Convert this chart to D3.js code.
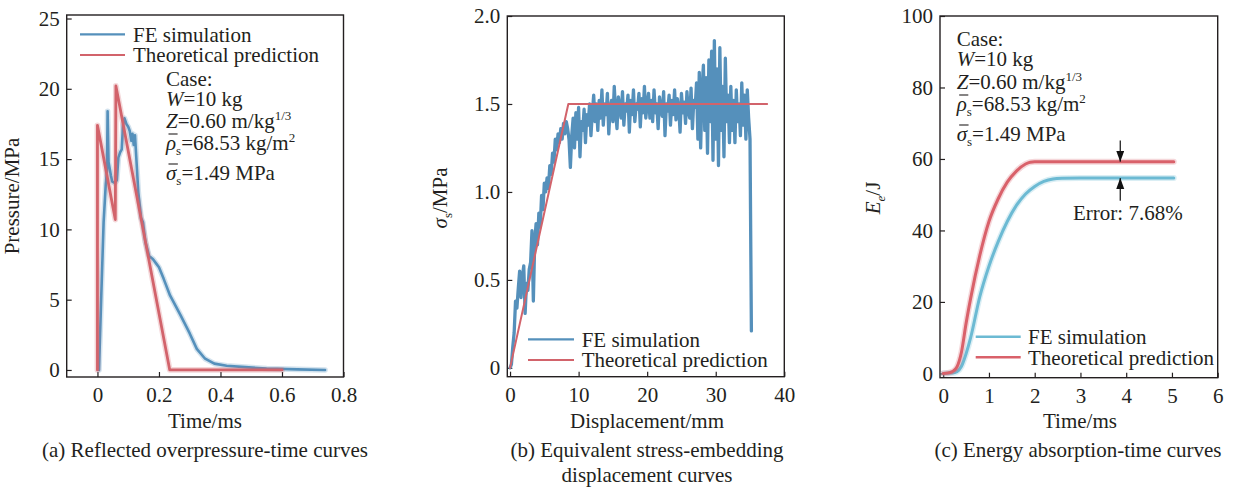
<!DOCTYPE html>
<html>
<head>
<meta charset="utf-8">
<script src="https://cdn.jsdelivr.net/npm/d3@7"></script>
<style>
  body { margin: 0; background: #fff; }
  .tick line { stroke: #231f20; stroke-width: 1.2; }
  .frame { fill: none; stroke: #231f20; stroke-width: 1.4; }
  .curve { fill: none; stroke-linejoin: round; stroke-linecap: round; }
</style>
</head>
<body>
<svg id="chart" width="1233" height="488"></svg>
<script>
//----------------------------------------
// Data
//----------------------------------------
const legendLabels = ['FE simulation', 'Theoretical prediction'];

// (a) reflected overpressure vs time
const pressureTimeFE = [0.005, 0.012, 0.02, 0.027, 0.031, 0.033, 0.036, 0.04, 0.044, 0.048, 0.056, 0.063,
  0.068, 0.074, 0.079, 0.083, 0.088, 0.094, 0.1, 0.105, 0.11, 0.114, 0.118, 0.122, 0.126, 0.133,
  0.142, 0.148, 0.156, 0.168, 0.18, 0.19, 0.2, 0.215, 0.236, 0.27, 0.3, 0.323, 0.35, 0.38, 0.42,
  0.48, 0.55, 0.65, 0.74];
const pressureFE = [0, 5, 10.5, 13.2, 14.2, 18.4, 14.8, 14.3, 13.8, 13.4, 13.3, 13.5,
  15.1, 15.5, 15.7, 17.4, 17.9, 17.5, 17.3, 17.0, 16.3, 16.8, 16.0, 16.7, 15.2, 12.6,
  10.8, 10.5, 9.1, 8.1, 7.9, 7.6, 7.3, 6.5, 5.3, 3.9, 2.6, 1.5, 0.8, 0.45, 0.3,
  0.2, 0.1, 0.04, 0];
const pressureTimeTheory = [0, 0, 0.058, 0.06, 0.235, 0.6];
const pressureTheory = [0, 17.4, 10.7, 20.2, 0, 0];
const pressureTicksX = [0, 0.2, 0.4, 0.6, 0.8];
const pressureTickLabelsX = ['0', '0.2', '0.4', '0.6', '0.8'];
const pressureTicksY = [0, 5, 10, 15, 20, 25];
const pressureTickLabelsY = ['0', '5', '10', '15', '20', '25'];

// (b) equivalent stress vs embedding displacement, FE sampled every 0.2 mm
const stressStepMM = 0.2;
const stressFE = [
  0, 0.02, 0.12, 0.2, 0.38, 0.34,
  0.45, 0.55, 0.4, 0.52, 0.58, 0.31, 0.48, 0.44, 0.56, 0.6, 0.78, 0.38,
  0.72, 0.82, 0.7, 0.88, 0.8, 0.98, 0.9, 1.05,
  1.0, 1.08, 1.02, 1.15, 1.1, 1.22, 1.17, 1.3, 1.24, 1.33,
  1.28, 1.36, 1.3, 1.39, 1.33, 1.4, 1.36, 1.3, 1.14, 1.32,
  1.42, 1.25, 1.45, 1.3, 1.48, 1.2, 1.4, 1.35, 1.47, 1.28, 1.44, 1.38, 1.5, 1.32, 1.45,
  1.55, 1.4, 1.5, 1.35, 1.52, 1.42, 1.58, 1.38, 1.5, 1.44,
  1.56, 1.33, 1.48, 1.52, 1.4, 1.6, 1.45, 1.36, 1.54, 1.48,
  1.42, 1.57, 1.38, 1.5, 1.46, 1.55, 1.34, 1.52, 1.44, 1.58,
  1.4, 1.5, 1.47, 1.56, 1.37, 1.53, 1.45, 1.6, 1.42, 1.5,
  1.56, 1.42, 1.52, 1.4, 1.58, 1.45, 1.5, 1.36, 1.54, 1.47,
  1.43, 1.57, 1.32, 1.5, 1.46, 1.55, 1.38, 1.52, 1.44, 1.58,
  1.41, 1.53, 1.48, 1.34, 1.56, 1.45, 1.51, 1.39, 1.57, 1.46,
  1.42, 1.59, 1.36, 1.52, 1.48,
  1.62, 1.3, 1.68, 1.25, 1.58, 1.72, 1.35, 1.65, 1.22, 1.75,
  1.4, 1.8, 1.18, 1.86, 1.3, 1.7, 1.15, 1.82, 1.35, 1.6,
  1.2, 1.76, 1.4, 1.55, 1.28,
  1.6, 1.35, 1.52, 1.28, 1.58, 1.4, 1.5, 1.32, 1.62, 1.38, 1.55, 1.3, 1.58, 1.42, 1.3,
  0.21
];
const stressDispTheory = [0, 8.5, 37.5];
const stressTheory = [0, 1.5, 1.5];
const stressTicksX = [0, 10, 20, 30, 40];
const stressTickLabelsX = ['0', '10', '20', '30', '40'];
const stressTicksY = [0, 0.5, 1.0, 1.5, 2.0];
const stressTickLabelsY = ['0', '0.5', '1.0', '1.5', '2.0'];

// (c) absorbed energy vs time
const energyTimeFE = [0, 0.2, 0.3, 0.4, 0.5, 0.6, 0.8, 1.0, 1.2, 1.4, 1.6, 1.8, 2.0, 2.2, 2.4, 2.6, 3.0, 4.0, 5.04];
const energyFE = [0, 0.1, 0.5, 2, 5.5, 10, 21.5, 30, 36.8, 42.5, 47, 50.2, 52.3, 53.7, 54.4, 54.6, 54.7, 54.7, 54.7];
const energyTimeTheory = [0, 0.1, 0.2, 0.3, 0.4, 0.5, 0.6, 0.8, 1.0, 1.2, 1.4, 1.6, 1.8, 1.9, 2.0, 3.0, 4.0, 5.04];
const energyTheory = [0, 0.1, 0.5, 1.8, 6, 14, 21, 33, 42.5, 48.8, 53.5, 56.6, 58.6, 59.1, 59.2, 59.2, 59.2, 59.2];
const energyTicksX = [0, 1, 2, 3, 4, 5, 6];
const energyTickLabelsX = ['0', '1', '2', '3', '4', '5', '6'];
const energyTicksY = [0, 20, 40, 60, 80, 100];
const energyTickLabelsY = ['0', '20', '40', '60', '80', '100'];
const errorLabel = 'Error: 7.68%';

// case parameters text (segments: it = italic, bar = overbar, sub / sup)
const caseLines = [
  [{t: 'Case:'}],
  [{t: 'W', it: true}, {t: '=10 kg'}],
  [{t: 'Z', it: true}, {t: '=0.60 m/kg'}, {t: '1/3', sup: true}],
  [{t: 'ρ', it: true, bar: true}, {t: 's', sub: true}, {t: '=68.53 kg/m'}, {t: '2', sup: true}],
  [{t: 'σ', it: true, bar: true}, {t: 's', sub: true}, {t: '=1.49 MPa'}]
];

const FONT = 'Liberation Serif';
const INK = '#231f20';
const BLUE = '#5590bb';
const RED = '#d2636b';
const CYAN = '#6cbad3';
const RED_C = '#d9616a';

/** Class for one framed panel with inward ticks */
class CurvePanel {

  constructor(svg, box, xDomain, yDomain) {
    this.svg = svg;
    this.box = box;
    this.x = d3.scaleLinear().domain(xDomain).range([box.left, box.right]);
    this.y = d3.scaleLinear().domain(yDomain).range([box.bottom, box.top]);
    this.g = svg.append('g');
  }

  axes(xTicks, xLabels, yTicks, yLabels) {
    let xAxis = d3.axisBottom(this.x)
      .tickValues(xTicks)
      .tickFormat((d, i) => xLabels[i])
      .tickSizeInner(-5).tickSizeOuter(0)
      .tickPadding(10);
    this.g.append('g')
      .attr('transform', `translate(0,${this.box.bottom})`)
      .call(xAxis)
      .call(g => g.select('.domain').remove());

    let yAxis = d3.axisLeft(this.y)
      .tickValues(yTicks)
      .tickFormat((d, i) => yLabels[i])
      .tickSizeInner(-5).tickSizeOuter(0)
      .tickPadding(7);
    this.g.append('g')
      .attr('transform', `translate(${this.box.left},0)`)
      .call(yAxis)
      .call(g => g.select('.domain').remove());

    // d3 puts sans-serif on the axis group, replace it
    this.g.selectAll('g').attr('font-family', FONT).attr('font-size', 21);
    this.g.selectAll('.tick text')
      .style('font-family', FONT)
      .style('font-size', '21px')
      .style('fill', INK);

    this.g.append('rect')
      .attr('class', 'frame')
      .attr('x', this.box.left)
      .attr('y', this.box.top)
      .attr('width', this.box.right - this.box.left)
      .attr('height', this.box.bottom - this.box.top);
  }

  curve(xs, ys, color, width, curveType, halo) {
    let pts = xs.map((v, i) => [v, ys[i]]);
    let line = d3.line()
      .x(d => this.x(d[0]))
      .y(d => this.y(d[1]))
      .curve(curveType || d3.curveLinear);
    if (halo) {
      this.g.append('path')
        .attr('class', 'curve')
        .attr('d', line(pts))
        .attr('stroke', color)
        .attr('stroke-opacity', 0.25)
        .attr('stroke-width', width + 3);
    }
    this.g.append('path')
      .attr('class', 'curve')
      .attr('d', line(pts))
      .attr('stroke', color)
      .attr('stroke-width', width);
  }

  legend(pos, colors, width) {
    legendLabels.forEach((lab, i) => {
      let y = pos.y + i * pos.dy;
      this.g.append('line')
        .attr('x1', pos.x1).attr('x2', pos.x2)
        .attr('y1', y).attr('y2', y)
        .attr('stroke', colors[i])
        .attr('stroke-width', width);
      label(this.g, pos.tx, y)
        .attr('dy', '0.35em')
        .text(lab);
    });
  }
}

// plain 21px serif text element
function label(g, x, y) {
  return g.append('text')
    .attr('x', x)
    .attr('y', y)
    .attr('font-family', FONT)
    .style('font-family', FONT)
    .style('font-size', '21px')
    .style('fill', INK);
}

// write rich text (italic / sub / sup segments) into a text element,
// bars are drawn later, once layout is done
const pendingBars = [];
function richText(g, textSel, segs) {
  let shift = 0;
  let pos = 0;
  segs.forEach(s => {
    let target = s.sup ? -8 : (s.sub ? 5 : 0);
    let ts = textSel.append('tspan')
      .attr('dy', target - shift)
      .text(s.t);
    if (s.it) ts.style('font-style', 'italic');
    if (s.sup || s.sub) ts.style('font-size', '13px');
    if (s.bar) pendingBars.push({g: g, node: textSel.node(), ci: pos});
    pos += s.t.length;
    shift = target;
  });
}

function drawBars() {
  pendingBars.forEach(b => {
    let ext = b.node.getExtentOfChar(b.ci);
    b.g.append('line')
      .attr('x1', ext.x + 2.5).attr('x2', ext.x + ext.width + 1.5)
      .attr('y1', ext.y + 3).attr('y2', ext.y + 3)
      .attr('stroke', INK)
      .attr('stroke-width', 1.1);
  });
}

function caseBlock(g, x, baselines) {
  caseLines.forEach((segs, i) => {
    richText(g, label(g, x, baselines[i]), segs);
  });
}

function yTitle(g, cx, cy, segs) {
  let t = label(g, 0, 0)
    .attr('text-anchor', 'middle')
    .attr('transform', `translate(${cx},${cy}) rotate(-90)`)
    .attr('dy', '0.35em');
  richText(g, t, segs);
}

function centeredText(g, cx, y, str) {
  label(g, cx, y)
    .attr('text-anchor', 'middle')
    .text(str);
}

const svg = d3.select('#chart');

//----------------------------------------
// (a) Pressure
//----------------------------------------
let pa = new CurvePanel(svg, {left: 66.7, right: 343.5, top: 15, bottom: 377}, [-0.1, 0.8], [-0.5, 25.25]);
pa.axes(pressureTicksX, pressureTickLabelsX, pressureTicksY, pressureTickLabelsY);
pa.curve(pressureTimeFE, pressureFE, BLUE, 2.6, d3.curveLinear, true);
pa.curve(pressureTimeTheory, pressureTheory, RED, 2.8, d3.curveLinear, true);
pa.legend({x1: 80, x2: 125, y: 34.3, dy: 20.7, tx: 133}, [BLUE, RED], 2.2);
caseBlock(pa.g, 166, [86, 106, 128, 150, 180]);
yTitle(pa.g, 19, 196, [{t: 'Pressure/MPa'}]);
centeredText(pa.g, 205, 428, 'Time/ms');
centeredText(pa.g, 205, 457, '(a) Reflected overpressure-time curves');

//----------------------------------------
// (b) Stress
//----------------------------------------
let pb = new CurvePanel(svg, {left: 507.3, right: 784.3, top: 16, bottom: 376.7}, [-0.4, 40], [-0.05, 2.0]);
pb.axes(stressTicksX, stressTickLabelsX, stressTicksY, stressTickLabelsY);
pb.curve(stressFE.map((v, i) => i * stressStepMM), stressFE, BLUE, 3.3, d3.curveLinear, false);
pb.curve(stressDispTheory, stressTheory, RED, 2, d3.curveLinear, false);
pb.legend({x1: 528, x2: 574, y: 339.3, dy: 20.7, tx: 581.7}, [BLUE, RED], 2.2);
yTitle(pb.g, 447, 198, [{t: 'σ', it: true}, {t: 's', sub: true}, {t: '/MPa'}]);
centeredText(pb.g, 647, 428, 'Displacement/mm');
centeredText(pb.g, 647, 457, '(b) Equivalent stress-embedding');
centeredText(pb.g, 647, 482, 'displacement curves');

//----------------------------------------
// (c) Energy
//----------------------------------------
let pc = new CurvePanel(svg, {left: 940, right: 1217.7, top: 16, bottom: 377.7}, [-0.07, 6.0], [-1.2, 100]);
pc.axes(energyTicksX, energyTickLabelsX, energyTicksY, energyTickLabelsY);
pc.curve(energyTimeFE, energyFE, CYAN, 3, d3.curveMonotoneX, true);
pc.curve(energyTimeTheory, energyTheory, RED_C, 3, d3.curveMonotoneX, true);
pc.legend({x1: 975.7, x2: 1020.7, y: 336.7, dy: 20.6, tx: 1028}, [CYAN, RED_C], 2.6);
caseBlock(pc.g, 956.7, [46, 66, 89, 111, 141]);
yTitle(pc.g, 880, 198, [{t: 'E', it: true}, {t: 'e', sub: true, it: true}, {t: '/J'}]);
centeredText(pc.g, 1080, 428, 'Time/ms');
centeredText(pc.g, 1078, 457, '(c) Energy absorption-time curves');

// error arrows
svg.append('defs').append('marker')
  .attr('id', 'head')
  .attr('markerUnits', 'userSpaceOnUse')
  .attr('markerWidth', 10).attr('markerHeight', 12)
  .attr('refX', 11).attr('refY', 4)
  .attr('orient', 'auto')
  .append('path')
  .attr('d', 'M0,0 L11,4 L0,8 Z')
  .attr('fill', '#111');

const arrowT = 3.87;
const topTheory = energyTheory[energyTheory.length - 1];
const topFE = energyFE[energyFE.length - 1];
[[topTheory + 6, topTheory], [topFE - 6.4, topFE]].forEach(a => {
  pc.g.append('line')
    .attr('x1', pc.x(arrowT)).attr('x2', pc.x(arrowT))
    .attr('y1', pc.y(a[0])).attr('y2', pc.y(a[1]))
    .attr('stroke', '#111')
    .attr('stroke-width', 1.2)
    .attr('marker-end', 'url(#head)');
});
label(pc.g, 1073, 220).text(errorLabel);

drawBars();
</script>
</body>
</html>
